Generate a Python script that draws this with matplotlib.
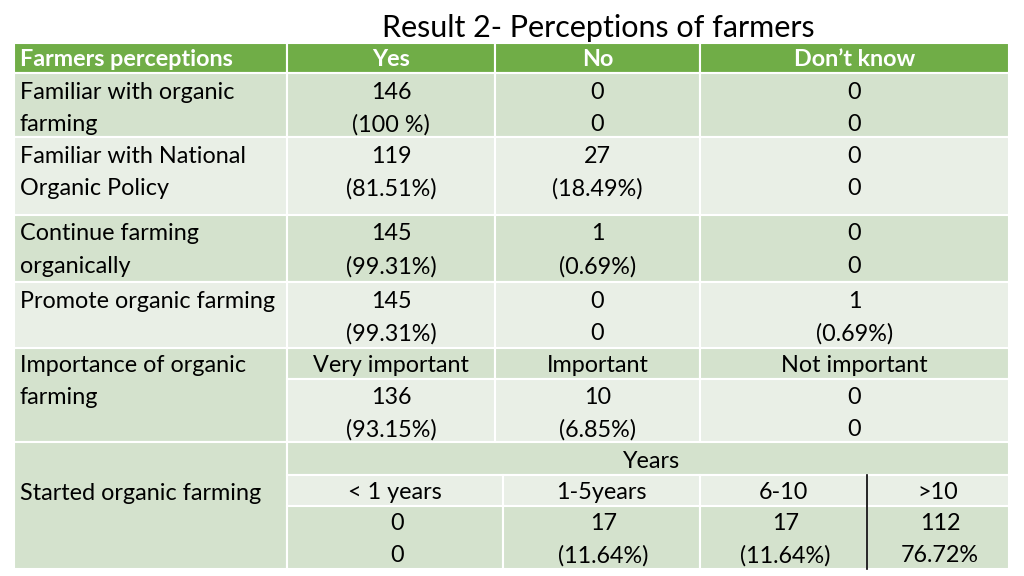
import matplotlib
matplotlib.use("Agg")
import matplotlib.pyplot as plt
from matplotlib.patches import Rectangle

plt.rcParams['font.family'] = ['Lato', 'DejaVu Sans']

title = "Result 2- Perceptions of farmers"
header = ["Farmers perceptions", "Yes", "No", "Don’t know"]

perceptions = ["Familiar with organic\nfarming", "Familiar with National\nOrganic Policy",
               "Continue farming\norganically", "Promote organic farming"]
yes_vals = [("146", "(100 %)"), ("119", "(81.51%)"), ("145", "(99.31%)"), ("145", "(99.31%)")]
no_vals = [("0", "0"), ("27", "(18.49%)"), ("1", "(0.69%)"), ("0", "0")]
dk_vals = [("0", "0"), ("0", "0"), ("0", "0"), ("1", "(0.69%)")]

importance_label = "Importance of organic\nfarming"
importance_cats = ["Very important", "Important", "Not important"]
importance_vals = [("136", "(93.15%)"), ("10", "(6.85%)"), ("0", "0")]

started_label = "Started organic farming"
years_title = "Years"
year_cats = ["< 1 years", "1-5years", "6-10", ">10"]
year_vals = [("0", "0"), ("17", "(11.64%)"), ("17", "(11.64%)"), ("112", "76.72%")]

HEAD = "#70ad47"
DARK = "#d4e2cd"
LIGHT = "#e9efe6"
FS = 16.8
DY = 1.5

fig = plt.figure(figsize=(10.24, 5.76), dpi=100)
ax = fig.add_axes([0, 0, 1, 1])
ax.set_xlim(0, 1024)
ax.set_ylim(576, 0)
ax.axis('off')

def cell(x0, y0, x1, y1, color):
    ax.add_patch(Rectangle((x0, y0), x1 - x0, y1 - y0, facecolor=color,
                           edgecolor='white', linewidth=1.5))

def txt(x, y, s, ha='center', **kw):
    ax.text(x, y + DY, s, ha=ha, va='center', fontsize=FS, color='black', **kw)

L, C1, C2, C3, R = 14, 287, 495, 700, 1009
cols = [(C1, C2), (C2, C3), (C3, R)]

ax.text(598, 28, title, ha='center', va='center', fontsize=22, color='black')

# header
ht, hb = 43, 73
cell(L, ht, C1, hb, HEAD)
for (a, b) in cols:
    cell(a, ht, b, hb, HEAD)
ax.text(20, 59.5, header[0], ha='left', va='center', fontsize=FS, color='white', fontweight='bold')
for (a, b), h in zip(cols, header[1:]):
    ax.text((a + b) / 2, 59.5, h, ha='center', va='center', fontsize=FS, color='white', fontweight='bold')

# main rows
row_bounds = [(73, 137), (137, 215), (215, 282), (282, 348)]
row_lines = [(91, 123), (155, 187), (232, 265), (300, 332)]
for i, lab in enumerate(perceptions):
    y0, y1 = row_bounds[i]
    col = DARK if i % 2 == 0 else LIGHT
    cell(L, y0, C1, y1, col)
    for (a, b) in cols:
        cell(a, y0, b, y1, col)
    l1, l2 = row_lines[i]
    parts = lab.split("\n")
    txt(20, l1, parts[0], ha='left')
    if len(parts) > 1:
        txt(20, l2, parts[1], ha='left')
    for (a, b), v in zip(cols, [yes_vals[i], no_vals[i], dk_vals[i]]):
        txt((a + b) / 2, l1, v[0])
        txt((a + b) / 2, l2, v[1])

# importance row
cell(L, 348, C1, 442, DARK)
for (a, b) in cols:
    cell(a, 348, b, 379, DARK)
    cell(a, 379, b, 442, LIGHT)
parts = importance_label.split("\n")
txt(20, 364, parts[0], ha='left')
txt(20, 396, parts[1], ha='left')
for (a, b), c, v in zip(cols, importance_cats, importance_vals):
    txt((a + b) / 2, 364, c)
    txt((a + b) / 2, 396, v[0])
    txt((a + b) / 2, 428, v[1])

# started row
cell(L, 442, C1, 569, DARK)
txt(20, 492, started_label, ha='left')
cell(C1, 442, R, 475, DARK)
txt((C1 + R) / 2 + 3, 460, years_title)
sub = [(C1, 503), (503, C3), (C3, 867), (867, R)]
for (a, b), c, v in zip(sub, year_cats, year_vals):
    cell(a, 475, b, 506, LIGHT)
    cell(a, 506, b, 569, DARK)
    txt((a + b) / 2, 491, c)
    txt((a + b) / 2 + 2, 522, v[0])
    txt((a + b) / 2 + 2, 554, v[1])
ax.plot([867, 867], [475, 569], color='black', linewidth=1.2)

fig.savefig("out.png", dpi=100)
